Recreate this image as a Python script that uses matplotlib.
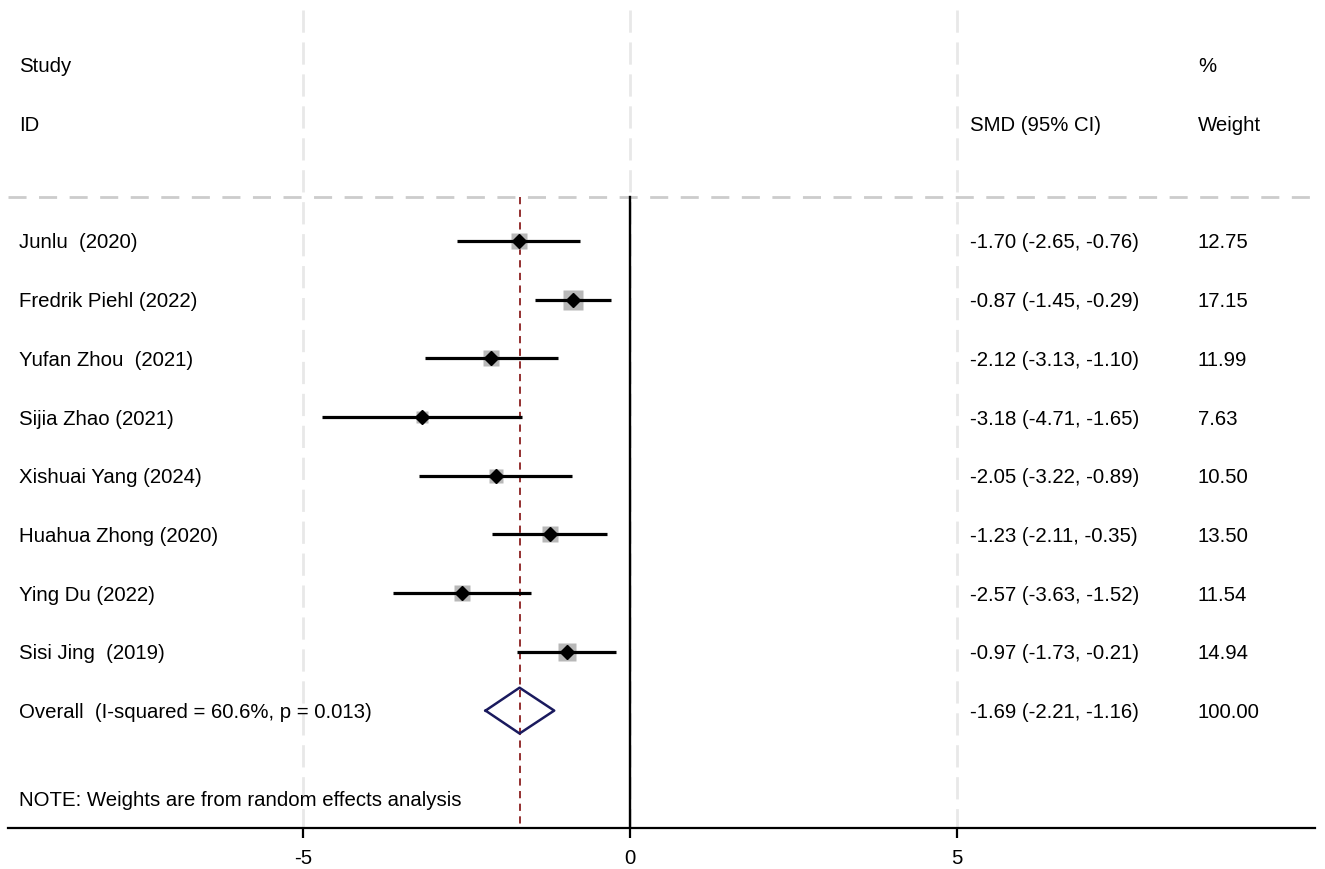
import matplotlib
matplotlib.use("Agg")
import matplotlib.pyplot as plt
import numpy as np

studies = ["Junlu  (2020)", "Fredrik Piehl (2022)", "Yufan Zhou  (2021)", "Sijia Zhao (2021)",
           "Xishuai Yang (2024)", "Huahua Zhong (2020)", "Ying Du (2022)", "Sisi Jing  (2019)"]
smd = [-1.70, -0.87, -2.12, -3.18, -2.05, -1.23, -2.57, -0.97]
lower = [-2.65, -1.45, -3.13, -4.71, -3.22, -2.11, -3.63, -1.73]
upper = [-0.76, -0.29, -1.10, -1.65, -0.89, -0.35, -1.52, -0.21]
weights = [12.75, 17.15, 11.99, 7.63, 10.50, 13.50, 11.54, 14.94]
overall_label = "Overall  (I-squared = 60.6%, p = 0.013)"
overall = -1.69
overall_lo = -2.21
overall_hi = -1.16
overall_w = "100.00"
note = "NOTE: Weights are from random effects analysis"
xticks = [-5, 0, 5]

plt.rcParams['font.family'] = ['Liberation Sans', 'DejaVu Sans']
fig = plt.figure(figsize=(13.25, 8.69), dpi=100)
ax = fig.add_axes([8/1325, 41/869, 1307/1325, 828/869])

xmin, xmax = -9.51, 10.47
ytop, ybot = -4.105, 10.0
ax.set_xlim(xmin, xmax)
ax.set_ylim(ybot, ytop)

grid_kw = dict(color='#e8e8e8', lw=2, dashes=(8, 3.5), zorder=0)
for xt in xticks:
    ax.plot([xt, xt], [-3.93, ybot], **grid_kw)
ax.plot([xmin, xmax], [-0.75, -0.75], color='#cccccc', lw=2, dashes=(6.5, 4.5), zorder=1)
ax.plot([0, 0], [-0.75, ybot], color='black', lw=1.7, zorder=2)
ax.plot([overall, overall], [-0.75, ybot], color='#8b2020', lw=1.3, dashes=(4, 3), zorder=2)

fs = 14.7
va = 'center_baseline'
for i, (s, m, lo, hi, w) in enumerate(zip(studies, smd, lower, upper, weights)):
    side = 4.6 * np.sqrt(w) * 0.72
    ax.plot([m], [i], marker='s', ms=side, color='#b8b8b8', mec='none', zorder=3)
    ax.plot([lo, hi], [i, i], color='black', lw=2.3, solid_capstyle='butt', zorder=4)
    ax.plot([m], [i], marker='D', ms=7, color='black', zorder=5)
    ax.text(-9.34, i, s, fontsize=fs, va=va, ha='left')
    ax.text(5.2, i, f"{m:.2f} ({lo:.2f}, {hi:.2f})", fontsize=fs, va=va, ha='left')
    ax.text(8.68, i, f"{w:.2f}", fontsize=fs, va=va, ha='left')

yo = len(studies)
dx = [overall_lo, overall, overall_hi, overall, overall_lo]
dy = [yo, yo - 0.39, yo, yo + 0.39, yo]
ax.plot(dx, dy, color='#1a1a5e', lw=1.8, zorder=5)
ax.text(-9.34, yo, overall_label, fontsize=fs, va=va, ha='left')
ax.text(5.2, yo, f"{overall:.2f} ({overall_lo:.2f}, {overall_hi:.2f})", fontsize=fs, va=va, ha='left')
ax.text(8.68, yo, overall_w, fontsize=fs, va=va, ha='left')
ax.text(-9.34, 9.5, note, fontsize=fs, va=va, ha='left')

ax.text(-9.34, -3, "Study", fontsize=fs, va=va, ha='left')
ax.text(-9.34, -2, "ID", fontsize=fs, va=va, ha='left')
ax.text(5.2, -2, "SMD (95% CI)", fontsize=fs, va=va, ha='left')
ax.text(8.68, -3, "%", fontsize=fs, va=va, ha='left')
ax.text(8.68, -2, "Weight", fontsize=fs, va=va, ha='left')

for sp in ['top', 'left', 'right']:
    ax.spines[sp].set_visible(False)
ax.spines['bottom'].set_linewidth(1.6)
ax.set_yticks([])
ax.set_xticks(xticks)
ax.set_xticklabels([str(t) for t in xticks])
ax.tick_params(axis='x', direction='out', length=7, width=1.6, labelsize=fs, pad=8)

fig.savefig("out.png", dpi=100)
